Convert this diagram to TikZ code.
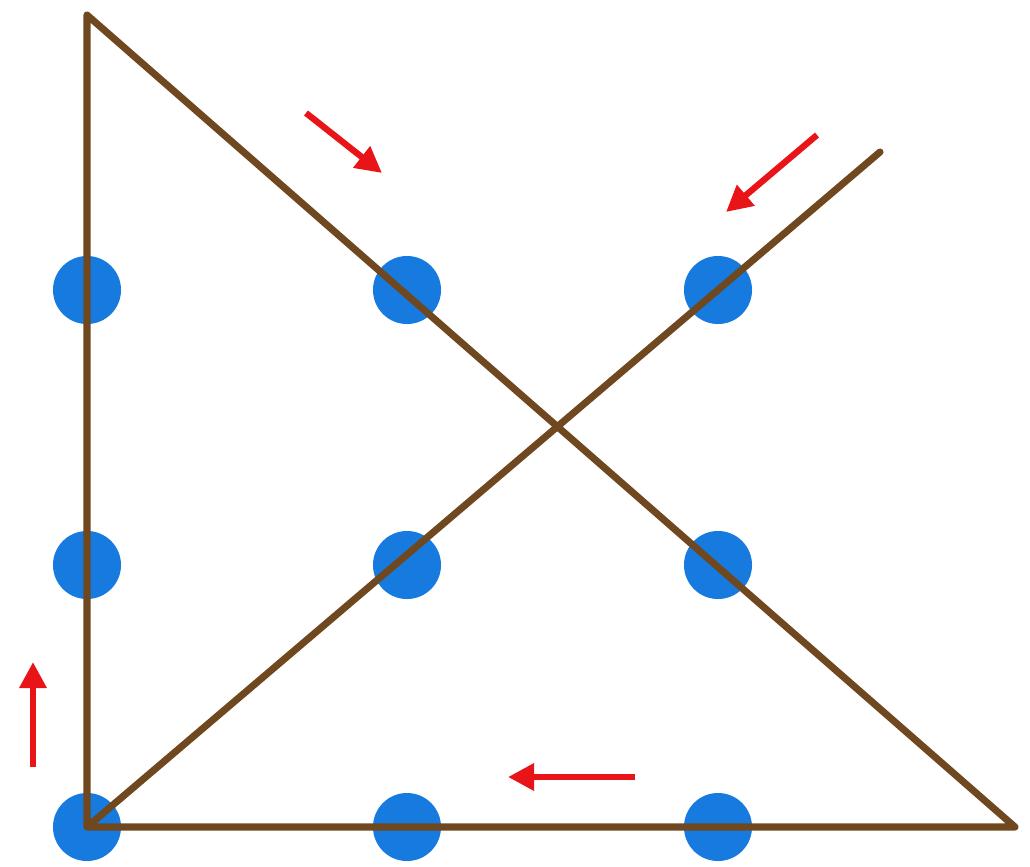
\documentclass[tikz,border=0pt]{standalone}
\usetikzlibrary{arrows.meta}
\definecolor{dotblue}{RGB}{22,122,222}
\definecolor{linebrown}{RGB}{112,72,32}
\definecolor{arrowred}{RGB}{232,20,24}
\tikzset{
  dot/.style={circle, fill=dotblue, inner sep=0pt, minimum size=0.68cm},
  path/.style={draw=linebrown, line width=2pt, line join=round, line cap=round},
  hint/.style={draw=arrowred, line width=1.8pt, -{Triangle[length=0.26cm,width=0.26cm]}}
}
\begin{document}
\begin{tikzpicture}[x=0.01cm, y=-0.01cm]
			\useasboundingbox (0,0) rectangle (1030,866);
			\node[dot] (a1) at (87,290) {};
			\node[dot] (a2) at (407,290) {};
			\node[dot] (a3) at (718,290) {};
			\node[dot] (b1) at (87,565) {};
			\node[dot] (b2) at (407,565) {};
			\node[dot] (b3) at (718,565) {};
			\node[dot] (c1) at (87,827) {};
			\node[dot] (c2) at (407,827) {};
			\node[dot] (c3) at (718,827) {};
			\coordinate (T) at (87,15);
			\coordinate (O) at (87,827);
			\coordinate (R) at (1015,827);
			\coordinate (E) at (880,152);
			\draw[path] (O)--(T)--(R)--(O)--(E);
			% direction hints
			\coordinate (h1) at (306,113);
			\coordinate (h1') at (382,173);
			\coordinate (h2) at (817,135);
			\coordinate (h2') at (726,212);
			\coordinate (h3) at (635,777);
			\coordinate (h3') at (508,777);
			\coordinate (h4) at (33,767);
			\coordinate (h4') at (33,662);
			\draw[hint] (h1)--(h1');
			\draw[hint] (h2)--(h2');
			\draw[hint] (h3)--(h3');
			\draw[hint] (h4)--(h4');
		\end{tikzpicture}
\end{document}
